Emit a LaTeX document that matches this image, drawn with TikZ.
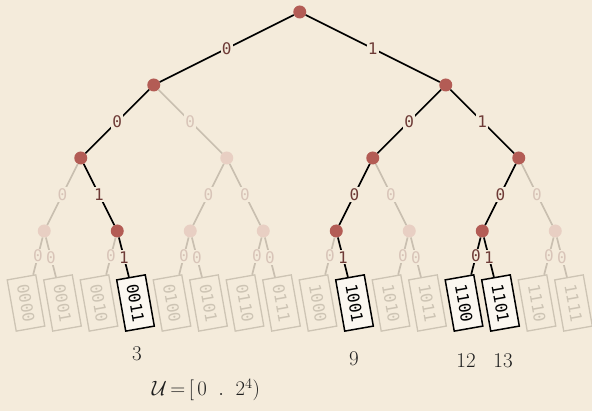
\documentclass[tikz,border=0pt]{standalone}
\usepackage{fontspec}
\newfontfamily\monofont{DejaVu Sans Mono}
\definecolor{paper}{HTML}{F4EBDB}
\definecolor{hotdot}{HTML}{B35C55}
\definecolor{colddot}{HTML}{E8CFC3}
\definecolor{coldline}{HTML}{C9BFB0}
\definecolor{hotlbl}{HTML}{6E3B37}
\definecolor{coldlbl}{HTML}{D8C4B8}
\definecolor{coldbox}{HTML}{CDC4B4}
\definecolor{cardfill}{HTML}{FBF7F0}
\definecolor{ink}{HTML}{1E1E1E}
\tikzset{
  hot/.style={circle,fill=hotdot,minimum size=13pt,inner sep=0pt},
  cold/.style={circle,fill=colddot,minimum size=13pt,inner sep=0pt},
  hotedge/.style={draw=black,line width=1.7pt},
  coldedge/.style={draw=coldline,line width=1.7pt},
  hotlabel/.style={fill=paper,inner sep=1.2pt,text=hotlbl,font=\monofont\fontsize{16}{16}\selectfont},
  coldlabel/.style={fill=paper,inner sep=1.2pt,text=coldlbl,font=\monofont\fontsize{16}{16}\selectfont},
  card/.style={rectangle,rotate=-80,minimum width=52pt,minimum height=29pt,inner sep=0pt,
    font=\monofont\fontsize{16}{16}\selectfont},
  hotcard/.style={card,draw=black,line width=1.5pt,fill=cardfill,text=black},
  coldcard/.style={card,draw=coldbox,line width=1.3pt,text=coldbox},
  hand/.style={text=ink,font=\fontsize{21}{21}\selectfont},
}
\begin{document}
\begin{tikzpicture}[x=1pt,y=-1pt]
\useasboundingbox[fill=paper] (0,0) rectangle (592,411);

% tree nodes
\node[hot]  (r)    at (299.75,12) {};
\node[hot]  (a0)   at (153.75,85) {};
\node[hot]  (a1)   at (445.75,85) {};
\node[hot]  (b00)  at (80.75,158) {};
\node[cold] (b01)  at (226.75,158) {};
\node[hot]  (b10)  at (372.75,158) {};
\node[hot]  (b11)  at (518.75,158) {};
\node[cold] (c000) at (44.25,231) {};
\node[hot]  (c001) at (117.25,231) {};
\node[cold] (c010) at (190.25,231) {};
\node[cold] (c011) at (263.25,231) {};
\node[hot]  (c100) at (336.25,231) {};
\node[cold] (c101) at (409.25,231) {};
\node[hot]  (c110) at (482.25,231) {};
\node[cold] (c111) at (555.25,231) {};

% leaf cards
\node[coldcard] (l0)  at (26,303)    {0000};
\node[coldcard] (l1)  at (62.5,303)  {0001};
\node[coldcard] (l2)  at (99,303)    {0010};
\node[hotcard]  (l3)  at (135.5,303) {0011};
\node[coldcard] (l4)  at (172,303)   {0100};
\node[coldcard] (l5)  at (208.5,303) {0101};
\node[coldcard] (l6)  at (245,303)   {0110};
\node[coldcard] (l7)  at (281.5,303) {0111};
\node[coldcard] (l8)  at (318,303)   {1000};
\node[hotcard]  (l9)  at (354.5,303) {1001};
\node[coldcard] (l10) at (391,303)   {1010};
\node[coldcard] (l11) at (427.5,303) {1011};
\node[hotcard]  (l12) at (464,303)   {1100};
\node[hotcard]  (l13) at (500.5,303) {1101};
\node[coldcard] (l14) at (537,303)   {1110};
\node[coldcard] (l15) at (573.5,303) {1111};

% unused branches
\path[coldedge] (a0) -- node[coldlabel]{0} (b01);
\path[coldedge] (b00) -- node[coldlabel]{0} (c000);
\path[coldedge] (b01) -- node[coldlabel]{0} (c010);
\path[coldedge] (b01) -- node[coldlabel]{0} (c011);
\path[coldedge] (b10) -- node[coldlabel]{0} (c101);
\path[coldedge] (b11) -- node[coldlabel]{0} (c111);
\path[coldedge] (c000) -- node[coldlabel]{0} (l0);
\path[coldedge] (c000) -- node[coldlabel]{0} (l1);
\path[coldedge] (c001) -- node[coldlabel]{0} (l2);
\path[coldedge] (c010) -- node[coldlabel]{0} (l4);
\path[coldedge] (c010) -- node[coldlabel]{0} (l5);
\path[coldedge] (c011) -- node[coldlabel]{0} (l6);
\path[coldedge] (c011) -- node[coldlabel]{0} (l7);
\path[coldedge] (c100) -- node[coldlabel]{0} (l8);
\path[coldedge] (c101) -- node[coldlabel]{0} (l10);
\path[coldedge] (c101) -- node[coldlabel]{0} (l11);
\path[coldedge] (c111) -- node[coldlabel]{0} (l14);
\path[coldedge] (c111) -- node[coldlabel]{0} (l15);

% taken branches
\path[hotedge] (r) -- node[hotlabel]{0} (a0);
\path[hotedge] (r) -- node[hotlabel]{1} (a1);
\path[hotedge] (a0) -- node[hotlabel]{0} (b00);
\path[hotedge] (a1) -- node[hotlabel]{0} (b10);
\path[hotedge] (a1) -- node[hotlabel]{1} (b11);
\path[hotedge] (b00) -- node[hotlabel]{1} (c001);
\path[hotedge] (b10) -- node[hotlabel]{0} (c100);
\path[hotedge] (b11) -- node[hotlabel]{0} (c110);
\path[hotedge] (c001) -- node[hotlabel]{1} (l3);
\path[hotedge] (c100) -- node[hotlabel]{1} (l9);
\path[hotedge] (c110) -- node[hotlabel]{0} (l12);
\path[hotedge] (c110) -- node[hotlabel]{1} (l13);

% handwritten notes
\node[hand] (n3)  at (137,354) {3};
\node[hand] (n9)  at (354,359) {9};
\node[hand] (n12) at (466,361) {12};
\node[hand] (n13) at (503,361) {13};
\node[hand] (uni) at (206,390) {$\mathcal{U}\,{=}\,[\,0\;\;.\;\;2^{4})$};
\end{tikzpicture}
\end{document}
